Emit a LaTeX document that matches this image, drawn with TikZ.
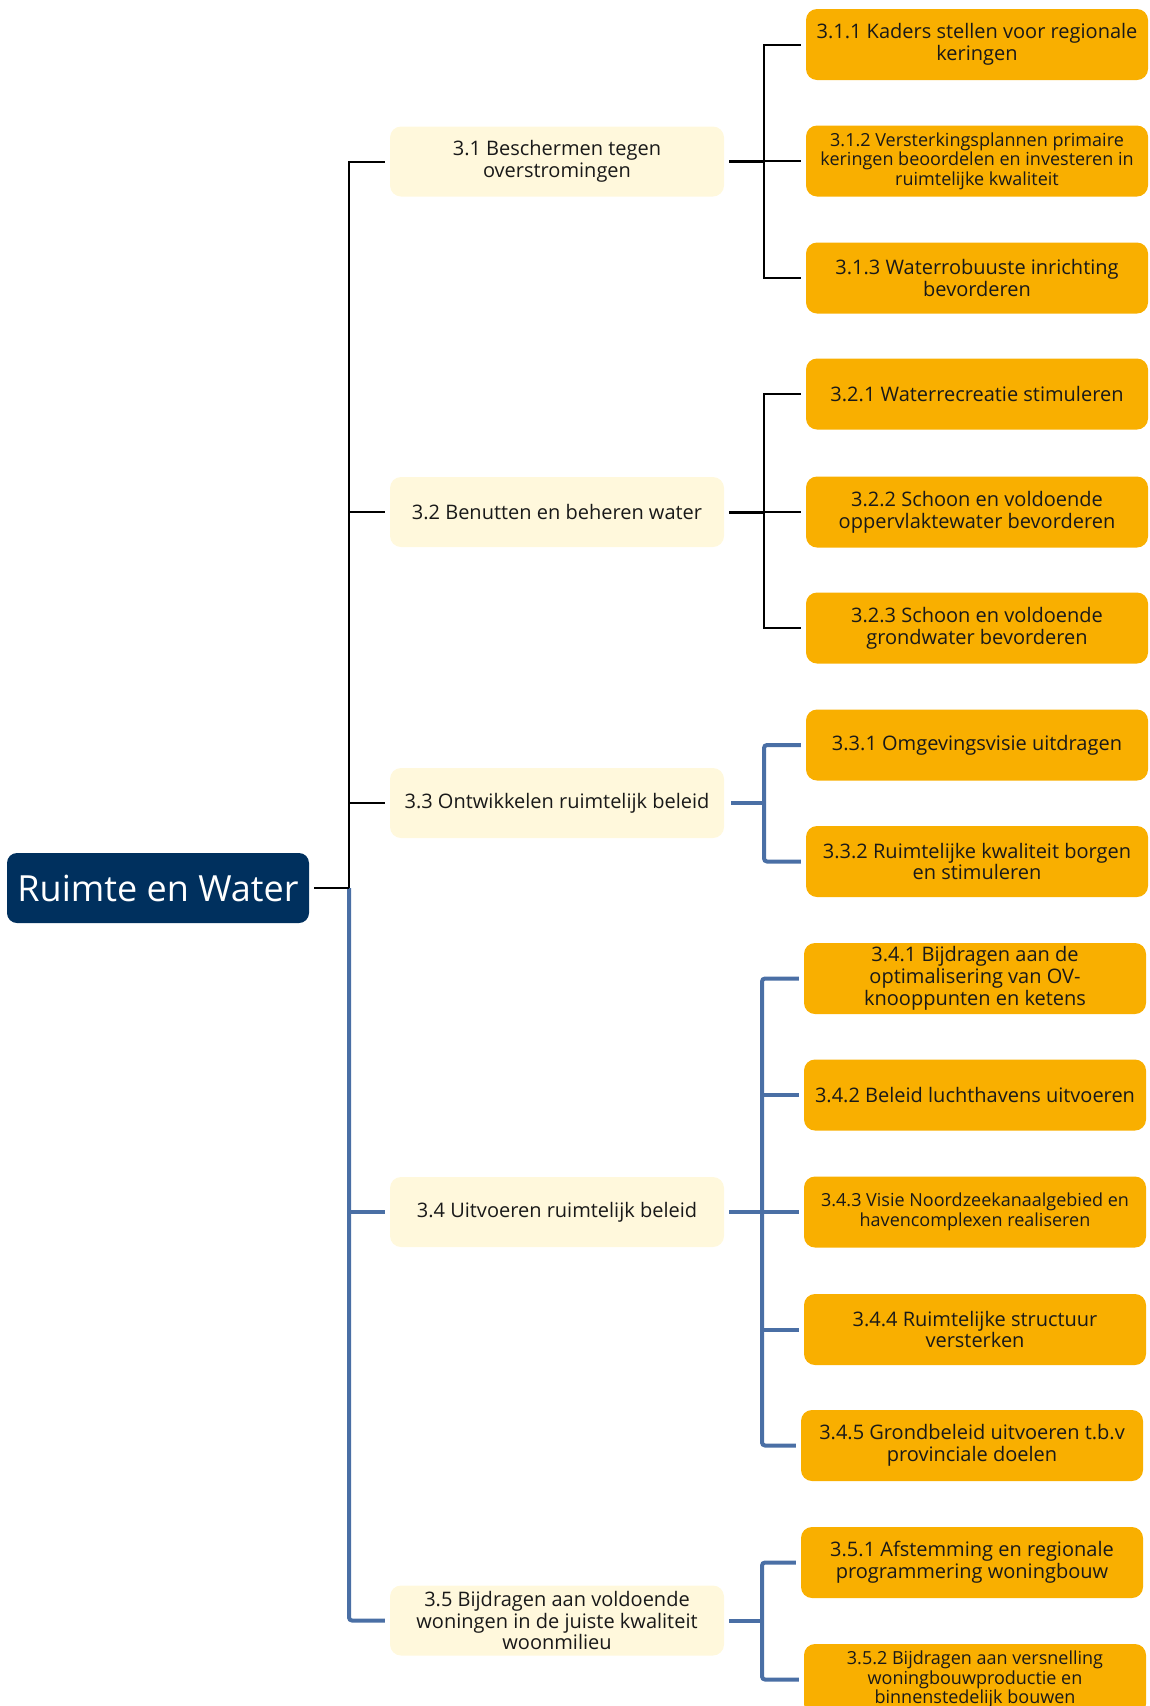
\documentclass[tikz,border=0pt]{standalone}
\usepackage{fontspec}
\setmainfont{Open Sans}
\definecolor{rootfill}{RGB}{0,48,94}
\definecolor{midfill}{RGB}{255,248,220}
\definecolor{leaffill}{RGB}{249,175,0}
\definecolor{blueline}{RGB}{74,111,165}
\definecolor{txt}{RGB}{25,25,25}
\begin{document}
\begin{tikzpicture}[x=1pt,y=-1pt,
  rootbox/.style={draw=none,fill=rootfill,rounded corners=10pt,minimum width=302pt,minimum height=70pt,
     text=white,font=\fontsize{36}{40}\selectfont,inner sep=0pt},
  midbox/.style={draw=none,fill=midfill,rounded corners=11pt,minimum width=334pt,minimum height=70pt,
     text=txt,font=\fontsize{20}{21.8}\selectfont,align=center,inner sep=0pt},
  leafbox/.style={draw=none,fill=leaffill,rounded corners=11pt,minimum width=342pt,minimum height=71pt,
     text=txt,font=\fontsize{20}{21.8}\selectfont,align=center,inner sep=0pt},
  small/.style={font=\fontsize{18}{19.5}\selectfont},
  blk/.style={draw=black,line width=2pt},
  blkthick/.style={draw=black,line width=3pt},
  blu/.style={draw=blueline,line width=4pt},
]
\useasboundingbox (0,0) rectangle (1149,1706);
\clip (0,0) rectangle (1149,1706);
% root
\node[rootbox] (root) at (158,888) {Ruimte en Water};
% level 2
\node[midbox] (n31) at (557,161.5) {3.1 Beschermen tegen\\overstromingen};
\node[midbox] (n32) at (557,512) {3.2 Benutten en beheren water};
\node[midbox] (n33) at (557,803) {3.3 Ontwikkelen ruimtelijk beleid};
\node[midbox] (n34) at (557,1212) {3.4 Uitvoeren ruimtelijk beleid};
\node[midbox] (n35) at (557,1620.5) {3.5 Bijdragen aan voldoende\\woningen in de juiste kwaliteit\\woonmilieu};
% level 3
\node[leafbox] (n311) at (977,44.5) {3.1.1 Kaders stellen voor regionale\\keringen};
\node[leafbox,small] (n312) at (977,161) {3.1.2 Versterkingsplannen primaire\\keringen beoordelen en investeren in\\ruimtelijke kwaliteit};
\node[leafbox] (n313) at (977,278) {3.1.3 Waterrobuuste inrichting\\bevorderen};
\node[leafbox] (n321) at (977,394) {3.2.1 Waterrecreatie stimuleren};
\node[leafbox] (n322) at (977,512) {3.2.2 Schoon en voldoende\\oppervlaktewater bevorderen};
\node[leafbox] (n323) at (977,628) {3.2.3 Schoon en voldoende\\grondwater bevorderen};
\node[leafbox] (n331) at (977,745) {3.3.1 Omgevingsvisie uitdragen};
\node[leafbox] (n332) at (977,861.5) {3.3.2 Ruimtelijke kwaliteit borgen\\en stimuleren};
\node[leafbox] (n341) at (975,978.5) {3.4.1 Bijdragen aan de\\optimalisering van OV-\\knooppunten en ketens};
\node[leafbox] (n342) at (975,1095) {3.4.2 Beleid luchthavens uitvoeren};
\node[leafbox,small] (n343) at (975,1212) {3.4.3 Visie Noordzeekanaalgebied en\\havencomplexen realiseren};
\node[leafbox] (n344) at (975,1329.5) {3.4.4 Ruimtelijke structuur\\versterken};
\node[leafbox] (n345) at (972,1445.5) {3.4.5 Grondbeleid uitvoeren t.b.v\\provinciale doelen};
\node[leafbox] (n351) at (972,1562.5) {3.5.1 Afstemming en regionale\\programmering woningbouw};
\node[leafbox,small] (n352) at (975,1679.5) {3.5.2 Bijdragen aan versnelling\\woningbouwproductie en\\binnenstedelijk bouwen};
% helper coordinates
\coordinate (T) at (349,0);
\coordinate (BA) at (764,0);
\coordinate (BB) at (762,0);
% trunk
\draw[blk] ([xshift=-5pt]n31.west) -- (n31.west -| T) -- (root.east -| T);
\draw[blk] ([xshift=-5pt]n32.west) -- (n32.west -| T);
\draw[blk] ([xshift=-5pt]n33.west) -- (n33.west -| T);
\draw[blu,rounded corners=3pt] (root.east -| T) -- (n35.west -| T) -- ([xshift=-5pt]n35.west);
\draw[blu] ([xshift=-5pt]n34.west) -- (n34.west -| T);
\draw[blk] ([xshift=5pt]root.east) -- (root.east -| T);
% 3.1 bracket
\draw[blkthick] ([xshift=5pt]n31.east) -- (n31.east -| BA);
\draw[blk] ([xshift=-5pt]n311.west) -- (n311.west -| BA) -- (n313.west -| BA) -- ([xshift=-5pt]n313.west);
\draw[blk] (n312.west -| BA) -- ([xshift=-5pt]n312.west);
% 3.2 bracket
\draw[blkthick] ([xshift=5pt]n32.east) -- (n32.east -| BA);
\draw[blk] ([xshift=-5pt]n321.west) -- (n321.west -| BA) -- (n323.west -| BA) -- ([xshift=-5pt]n323.west);
\draw[blk] (n322.west -| BA) -- ([xshift=-5pt]n322.west);
% 3.3 bracket
\draw[blu] ([xshift=7pt]n33.east) -- (n33.east -| BA);
\draw[blu,rounded corners=3pt] ([xshift=-5pt]n331.west) -- (n331.west -| BA) -- (n332.west -| BA) -- ([xshift=-5pt]n332.west);
% 3.4 bracket
\draw[blu] ([xshift=5pt]n34.east) -- (n34.east -| BB);
\draw[blu,rounded corners=3pt] ([xshift=-5pt]n341.west) -- (n341.west -| BB) -- (n345.west -| BB) -- ([xshift=-5pt]n345.west);
\draw[blu] (n342.west -| BB) -- ([xshift=-5pt]n342.west);
\draw[blu] (n343.west -| BB) -- ([xshift=-5pt]n343.west);
\draw[blu] (n344.west -| BB) -- ([xshift=-5pt]n344.west);
% 3.5 bracket
\draw[blu] ([xshift=5pt]n35.east) -- (n35.east -| BB);
\draw[blu,rounded corners=3pt] ([xshift=-5pt]n351.west) -- (n351.west -| BB) -- (n352.west -| BB) -- ([xshift=-5pt]n352.west);
\end{tikzpicture}
\end{document}
